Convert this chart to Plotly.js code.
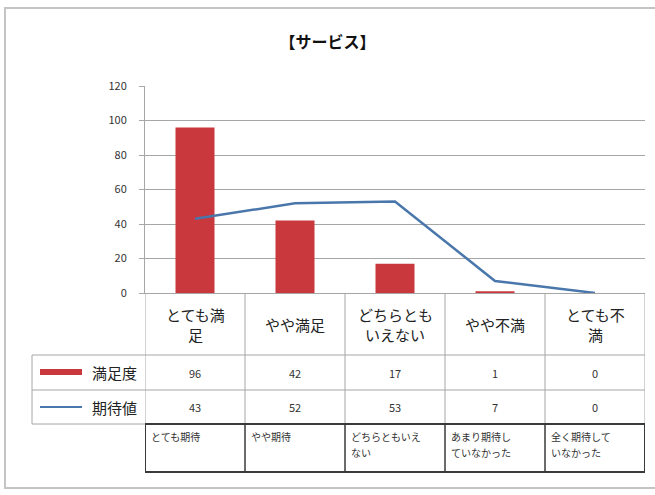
<!DOCTYPE html>
<html>
<head>
<meta charset="utf-8">
<script src="https://cdn.plot.ly/plotly-3.0.1.min.js"></script>
<style>html,body{margin:0;padding:0;background:#fff;}#chart{width:655px;height:495px;}</style>
</head>
<body>
<div id="chart"></div>
<script>
// ---- data ----
const categories = ['とても満足', 'やや満足', 'どちらともいえない', 'やや不満', 'とても不満'];
const categoryLabels = [['とても満', '足'], ['やや満足'], ['どちらとも', 'いえない'], ['やや不満'], ['とても不', '満']];
const satisfaction = [96, 42, 17, 1, 0];
const expectation = [43, 52, 53, 7, 0];
const expectationLabels = [['とても期待'], ['やや期待'], ['どちらともいえ', 'ない'], ['あまり期待し', 'ていなかった'], ['全く期待して', 'いなかった']];
const seriesNames = ['満足度', '期待値'];
const chartTitle = '【サービス】';

// ---- layout helpers (pixel -> paper) ----
const W = 655, H = 495;
const M = {l: 145, r: 10, t: 86, b: 22};
const PW = W - M.l - M.r, PH = H - M.t - M.b;
const px = p => (p - M.l) / PW;
const py = p => (H - M.b - p) / PH;
const y0 = py(293);

const jp = '"Noto Sans CJK JP", "Noto Sans", sans-serif';
const red = '#c8383c', blue = '#4a77ab';
const gridC = '#a6a6a6';

const traces = [
  {type: 'bar', x: categories, y: satisfaction, name: seriesNames[0],
   marker: {color: red}, width: 0.39, showlegend: false, hoverinfo: 'skip'},
  {type: 'scatter', mode: 'lines', x: categories, y: expectation, name: seriesNames[1],
   line: {color: blue, width: 2.5}, showlegend: false, hoverinfo: 'skip', cliponaxis: false}
];

const shapes = [];
const annotations = [];

// chart frame
shapes.push({type: 'rect', xref: 'paper', yref: 'paper', x0: px(5), x1: px(662), y0: py(488), y1: py(8),
  line: {color: '#c4c4c4', width: 2}, layer: 'below'});

// data-table verticals at category boundaries
for (let i = 0; i <= categories.length; i++) {
  shapes.push({type: 'line', xref: 'x', yref: 'paper', x0: i - 0.5, x1: i - 0.5, y0: py(293), y1: py(424),
    line: {color: gridC, width: 1}});
}
// data-table horizontals
[355, 390, 424].forEach(v => {
  shapes.push({type: 'line', xref: 'paper', yref: 'paper', x0: px(32), x1: 1, y0: py(v), y1: py(v),
    line: {color: gridC, width: 1}});
});
shapes.push({type: 'line', xref: 'paper', yref: 'paper', x0: px(32), x1: px(32), y0: py(355), y1: py(424),
  line: {color: gridC, width: 1}});

// boxed expectation-label row
shapes.push({type: 'rect', xref: 'x', yref: 'paper', x0: -0.5, x1: categories.length - 0.5, y0: py(472), y1: py(424),
  line: {color: '#3a3a3a', width: 2}});
for (let i = 1; i < categories.length; i++) {
  shapes.push({type: 'line', xref: 'x', yref: 'paper', x0: i - 0.5, x1: i - 0.5, y0: py(472), y1: py(424),
    line: {color: '#3a3a3a', width: 1.5}});
}

// legend keys in table
shapes.push({type: 'line', xref: 'paper', yref: 'paper', x0: px(40), x1: px(82), y0: py(372), y1: py(372),
  line: {color: red, width: 6}});
shapes.push({type: 'line', xref: 'paper', yref: 'paper', x0: px(40), x1: px(82), y0: py(407), y1: py(407),
  line: {color: blue, width: 2}});
annotations.push({xref: 'paper', yref: 'paper', x: px(139), y: py(372), xanchor: 'right', yanchor: 'middle',
  text: seriesNames[0], showarrow: false, font: {family: jp, size: 15, color: '#222'}});
annotations.push({xref: 'paper', yref: 'paper', x: px(139), y: py(407), xanchor: 'right', yanchor: 'middle',
  text: seriesNames[1], showarrow: false, font: {family: jp, size: 15, color: '#222'}});

// table cells
categories.forEach((c, i) => {
  const lines = categoryLabels[i];
  const lh = 20;
  const startY = 324 - (lines.length - 1) * lh / 2;
  lines.forEach((t, k) => {
    annotations.push({xref: 'x', yref: 'paper', x: i, y: py(startY + k * lh), xanchor: 'center', yanchor: 'middle',
      text: t, showarrow: false, font: {family: jp, size: 15, color: '#222'}});
  });
  annotations.push({xref: 'x', yref: 'paper', x: i, y: py(373), xanchor: 'center', yanchor: 'middle',
    text: String(satisfaction[i]), showarrow: false, font: {family: jp, size: 11, color: '#333'}});
  annotations.push({xref: 'x', yref: 'paper', x: i, y: py(407), xanchor: 'center', yanchor: 'middle',
    text: String(expectation[i]), showarrow: false, font: {family: jp, size: 11, color: '#333'}});
  expectationLabels[i].forEach((t, k) => {
    annotations.push({xref: 'x', yref: 'paper', x: i - 0.46, y: py(427 + k * 16), xanchor: 'left', yanchor: 'top',
      text: t, showarrow: false, font: {family: jp, size: 10, color: '#333'}});
  });
});

const layout = {
  width: W, height: H,
  margin: M,
  paper_bgcolor: '#fff', plot_bgcolor: '#fff',
  title: {text: chartTitle, x: 0.5, xref: 'container', y: 1 - 42 / H, yref: 'container', yanchor: 'middle',
    font: {family: jp, size: 16, color: '#111', weight: 'bold'}},
  xaxis: {type: 'category', range: [-0.5, categories.length - 0.5], showticklabels: false,
    showgrid: false, zeroline: false, showline: true, linecolor: gridC, linewidth: 1, ticks: '', fixedrange: true},
  yaxis: {domain: [y0, 1], range: [0, 120], dtick: 20, tick0: 0, showgrid: true, gridcolor: gridC, gridwidth: 1,
    zeroline: false, showline: true, linecolor: gridC, linewidth: 1, ticks: 'outside', ticklen: 5, tickcolor: gridC,
    ticklabelstandoff: 10,
    tickfont: {family: jp, size: 11, color: '#333'}, fixedrange: true},
  bargap: 0.6,
  shapes: shapes,
  annotations: annotations,
  showlegend: false
};

Plotly.newPlot('chart', traces, layout, {displayModeBar: false, staticPlot: true});
</script>
</body>
</html>
